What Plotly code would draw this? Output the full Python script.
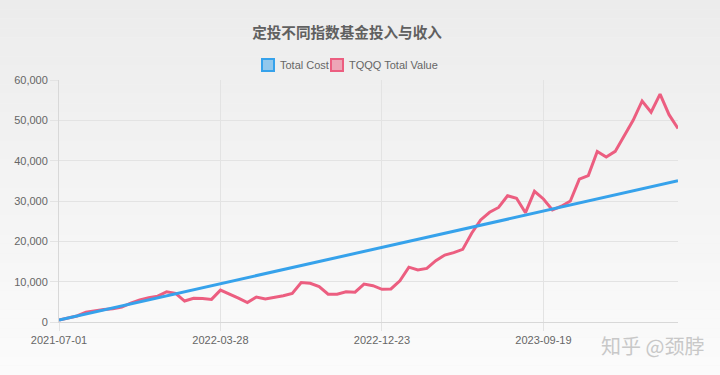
import pandas as pd
import plotly.graph_objects as go

dates = [d.strftime("%Y-%m-%d") for d in pd.date_range("2021-07-01", periods=70, freq="15D")]

total_cost = [
    500, 1000, 1500, 2000, 2500, 3000, 3500, 4000, 4500, 5000,
    5500, 6000, 6500, 7000, 7500, 8000, 8500, 9000, 9500, 10000,
    10500, 11000, 11500, 12000, 12500, 13000, 13500, 14000, 14500, 15000,
    15500, 16000, 16500, 17000, 17500, 18000, 18500, 19000, 19500, 20000,
    20500, 21000, 21500, 22000, 22500, 23000, 23500, 24000, 24500, 25000,
    25500, 26000, 26500, 27000, 27500, 28000, 28500, 29000, 29500, 30000,
    30500, 31000, 31500, 32000, 32500, 33000, 33500, 34000, 34500, 35000,
]

tqqq_value = [
    500, 1000, 1500, 2400, 2800, 3100, 3300, 3700, 4700, 5500,
    6000, 6400, 7500, 7100, 5200, 5900, 5800, 5600, 7900, 7000,
    5900, 4800, 6200, 5700, 6100, 6500, 7100, 9800, 9600, 8800,
    6900, 6900, 7500, 7400, 9400, 9000, 8100, 8200, 10200, 13600,
    12900, 13300, 15200, 16600, 17200, 18000, 22000, 25300, 27200, 28400,
    31300, 30700, 27100, 32400, 30500, 27800, 28700, 30000, 35400, 36300,
    42300, 40900, 42300, 46000, 50000, 54800, 52000, 56500, 51400, 48000,
]

series_names = ["Total Cost", "TQQQ Total Value"]
x_ticks = ["2021-07-01", "2022-03-28", "2022-12-23", "2023-09-19"]
y_ticks = [0, 10000, 20000, 30000, 40000, 50000, 60000]

BLUE = "rgb(54,162,235)"
PINK = "rgb(236,94,128)"
FONT = "Liberation Sans, Arial, sans-serif"
W, H = 720, 375
ML, MR, MT, MB = 59, 42, 80, 53
PW, PH = W - ML - MR, H - MT - MB


def px(x):
    return (x - ML) / PW


def py(y):
    return (H - MB - y) / PH


fig = go.Figure()
fig.add_trace(go.Scatter(x=dates, y=tqqq_value, mode="lines", line=dict(color=PINK, width=3),
                         name=series_names[1], showlegend=False, hoverinfo="skip"))
fig.add_trace(go.Scatter(x=dates, y=total_cost, mode="lines", line=dict(color=BLUE, width=3),
                         name=series_names[0], showlegend=False, hoverinfo="skip"))

shapes = []
# background gradient bands
n = 40
c0, c1 = 236, 251
for i in range(n):
    v = round(c0 + (c1 - c0) * i / (n - 1))
    c = "rgb(%d,%d,%d)" % (v, v, v)
    shapes.append(dict(type="rect", xref="paper", yref="paper", x0=px(0), x1=px(W),
                       y0=py(H * (i + 1) / n), y1=py(H * i / n),
                       fillcolor=c, line=dict(width=0), layer="below"))

# legend boxes
annotations = []
for (x0, tx, col, fill, name) in [(262, 278, BLUE, "rgba(54,162,235,0.5)", series_names[0]),
                                  (331, 347, PINK, "rgba(236,94,128,0.5)", series_names[1])]:
    shapes.append(dict(type="rect", xref="paper", yref="paper", x0=px(x0), x1=px(x0 + 12),
                       y0=py(71), y1=py(59), fillcolor=fill, line=dict(color=col, width=2)))
    annotations.append(dict(text=name, xref="paper", yref="paper", x=px(tx), y=py(65),
                            xanchor="left", yanchor="middle", showarrow=False,
                            font=dict(family=FONT, size=11, color="#666666")))

annotations.append(dict(text="知乎 @颈脖", xref="paper", yref="paper", x=px(706), y=py(345),
                        xanchor="right", yanchor="middle", showarrow=False,
                        font=dict(family="Noto Sans CJK SC", size=20, color="#c8c8c8")))

fig.update_layout(
    width=W, height=H,
    margin=dict(l=ML, r=MR, t=MT, b=MB, autoexpand=False),
    paper_bgcolor="#f3f3f3",
    plot_bgcolor="rgba(0,0,0,0)",
    font=dict(family=FONT, size=11, color="#666666"),
    title=dict(text="<b>定投不同指数基金投入与收入</b>", xref="paper", x=px(347), xanchor="center",
               y=1 - 33 / H, yanchor="middle",
               font=dict(family="Noto Sans CJK SC, " + FONT, size=14.6, color="#606060")),
    showlegend=False,
    xaxis=dict(type="category", tickmode="array", tickvals=x_ticks, ticktext=x_ticks,
               showgrid=True, gridcolor="#e3e3e3", gridwidth=1,
               ticks="outside", ticklen=8, tickcolor="#e3e3e3",
               showline=True, linecolor="#d8d8d8", range=[0, 69], automargin=False,
               tickfont=dict(size=11, color="#666666"), zeroline=False),
    yaxis=dict(range=[0, 60000], tickvals=y_ticks, tickformat=",",
               showgrid=True, gridcolor="#e3e3e3", gridwidth=1,
               ticks="outside", ticklen=8, tickcolor="#e3e3e3",
               showline=True, linecolor="#d8d8d8", automargin=False,
               tickfont=dict(size=11, color="#666666"), zeroline=False),
    shapes=shapes,
    annotations=annotations,
)

fig.write_html("out.html", post_script="document.body.style.margin='0';",
               config={"displayModeBar": False})
